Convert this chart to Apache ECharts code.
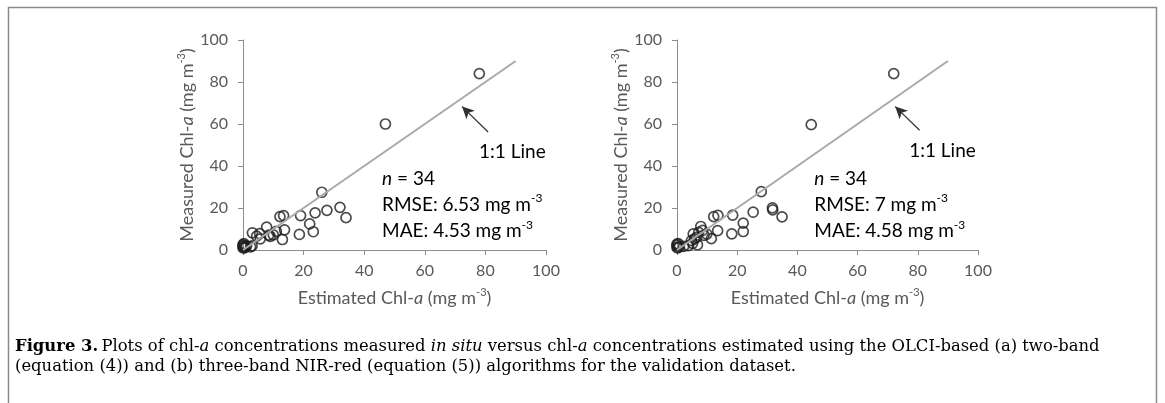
<!DOCTYPE html>
<html>
<head>
<meta charset="utf-8">
<script src="https://cdn.jsdelivr.net/npm/echarts@6/dist/echarts.min.js"></script>
<style>
html, body { margin: 0; padding: 0; background: #fff; }
#main { width: 1165px; height: 403px; }
</style>
</head>
<body>
<div id="main"></div>
<script>
// (a) two-band algorithm: [estimated, measured]
var pointsA = [
    [78, 84], [47, 60], [26, 27.5], [32, 20.3], [34, 15.4], [27.7, 18.9],
    [23.8, 17.7], [19, 16.4], [22, 12.4], [23.2, 8.7], [18.6, 7.4], [13.4, 16.4],
    [12.2, 15.9], [13.7, 9.6], [13, 5], [11, 8.9], [7.8, 10.9], [10, 7.2],
    [8.5, 7.1], [5.7, 5.3], [5.5, 7.8], [3.1, 8.2], [4.5, 6.6], [2.5, 1.5],
    [1.2, 2], [0, 1], [0, 2], [0.3, 3], [0.8, 1.5], [0, 2.6],
    [0.5, 1], [0.2, 1.8], [3, 2], [9, 6.5]
];
// (b) three-band NIR-red algorithm: [estimated, measured]
var pointsB = [
    [72, 84], [44.6, 59.7], [28, 27.8], [31.7, 20.1], [31.8, 19.1], [34.9, 15.8],
    [25.3, 18], [18.5, 16.6], [22, 12.8], [22, 8.8], [18.2, 7.7], [13.6, 16.5],
    [12.2, 15.9], [13.5, 9.2], [11.4, 5.4], [7.9, 11.2], [9.9, 7.6], [8.5, 9.3],
    [7.2, 8.4], [5.4, 7.7], [5.8, 5.3], [5.2, 3.2], [6.5, 6], [3.8, 2.1],
    [2.2, 1.7], [0, 1.2], [0, 2.2], [0.4, 3], [0.8, 1.6], [0, 2.8],
    [0.3, 1], [6.8, 2.5], [9, 7], [4.8, 4.5]
];
var oneToOne = [[0, 0], [90, 90]];
var axisRange = [0, 100];
var axisStep = 20;
var statsA = ['34', '6.53', '4.53'];
var statsB = ['34', '7', '4.58'];

var chart = echarts.init(document.getElementById('main'));

var axisGray = '#8c8c8c';
var labelGray = '#595959';
var uiFont = 'Lato';

var nameRich = {
    n: { fontFamily: uiFont, fontSize: 18, color: labelGray, lineHeight: 22 },
    i: { fontFamily: uiFont, fontSize: 18, color: labelGray, fontStyle: 'italic', lineHeight: 22 },
    s: { fontFamily: uiFont, fontSize: 11, color: labelGray, verticalAlign: 'top', lineHeight: 22 }
};

function makeAxis(idx, isX) {
    return {
        type: 'value',
        gridIndex: idx,
        min: axisRange[0],
        max: axisRange[1],
        interval: axisStep,
        name: isX ? '{n|Estimated Chl-}{i|a}{n| (mg m}{s|-3}{n|)}'
                  : '{n|Measured Chl-}{i|a}{n| (mg m}{s|-3}{n|)}',
        nameLocation: 'middle',
        nameGap: isX ? 37 : 36,
        nameTextStyle: { rich: nameRich },
        axisLine: { show: true, lineStyle: { color: axisGray, width: 1 } },
        axisTick: { show: true, length: 5, lineStyle: { color: axisGray } },
        splitLine: { show: false },
        axisLabel: { color: labelGray, fontFamily: uiFont, fontSize: 16, margin: isX ? 13 : 15 }
    };
}

function makeSeries(idx, pts) {
    return [
        {
            type: 'line',
            xAxisIndex: idx,
            yAxisIndex: idx,
            data: oneToOne,
            symbol: 'none',
            silent: true,
            lineStyle: { color: '#a9a9a9', width: 2 },
            markLine: {
                silent: true,
                symbol: ['none', 'arrow'],
                symbolSize: [9, 12],
                label: { show: false },
                lineStyle: { color: '#303030', width: 1.2, type: 'solid' },
                data: [[{ coord: idx === 0 ? [80.9, 56.2] : [80.6, 57] },
                        { coord: idx === 0 ? [72.3, 68.3] : [72.5, 68.3] }]]
            }
        },
        {
            type: 'scatter',
            xAxisIndex: idx,
            yAxisIndex: idx,
            data: pts,
            symbol: 'circle',
            symbolSize: 10,
            itemStyle: { color: 'rgba(255,255,255,0)', borderColor: '#1e1e1e', borderWidth: 1.7 }
        }
    ];
}

var option = {
    animation: false,
    backgroundColor: '#fff',
    grid: [
        { left: 243, top: 40, width: 303, height: 210 },
        { left: 677, top: 40, width: 301, height: 210 }
    ],
    xAxis: [makeAxis(0, true), makeAxis(1, true)],
    yAxis: [makeAxis(0, false), makeAxis(1, false)],
    series: makeSeries(0, pointsA).concat(makeSeries(1, pointsB))
};
chart.setOption(option);

// annotation texts anchored in data coordinates
var annRich = {
    n: { fontFamily: uiFont, fontSize: 19, color: '#3a3a3a', lineHeight: 24 },
    i: { fontFamily: uiFont, fontSize: 19, color: '#3a3a3a', fontStyle: 'italic', lineHeight: 24 },
    s: { fontFamily: uiFont, fontSize: 12, color: '#3a3a3a', verticalAlign: 'top', lineHeight: 24 }
};

function annText(idx, at, text, align) {
    var p = chart.convertToPixel({ gridIndex: idx }, at);
    return {
        type: 'text',
        x: p[0],
        y: p[1],
        silent: true,
        style: { text: text, rich: annRich, align: align, verticalAlign: 'middle' }
    };
}

function annotations(idx, st, lineX, lineY, statX) {
    return [
        annText(idx, [lineX, lineY], '{n|1:1 Line}', 'center'),
        annText(idx, [statX, 33.9], '{i|n}{n| = ' + st[0] + '}', 'left'),
        annText(idx, [statX, 21.7], '{n|RMSE: ' + st[1] + ' mg m}{s|-3}', 'left'),
        annText(idx, [statX, 9.2], '{n|MAE: ' + st[2] + ' mg m}{s|-3}', 'left')
    ];
}

var capFont = 'DejaVu Serif';
var capRich = {
    r: { fontFamily: capFont, fontSize: 16.4, color: '#1a1a1a' },
    i: { fontFamily: capFont, fontSize: 16.4, color: '#1a1a1a', fontStyle: 'italic' },
    b: { fontFamily: capFont, fontSize: 16.4, color: '#1a1a1a', fontWeight: 'bold' },
    l: { fontFamily: capFont, fontSize: 16.4, color: '#2a7ab8' }
};
var caption1 = '{b|Figure 3.} {r|Plots of chl-}{i|a}{r| concentrations measured }{i|in situ}{r| versus chl-}{i|a}{r| concentrations estimated using the OLCI-based (a) two-band}';
var caption2 = '{r|(equation (}{l|4}{r|)) and (b) three-band NIR-red (equation (}{l|5}{r|)) algorithms for the validation dataset.}';

chart.setOption({
    graphic: annotations(0, statsA, 88.9, 46.6, 45.9)
        .concat(annotations(1, statsB, 88.2, 47.4, 45.6))
        .concat([
            {
                type: 'polyline',
                silent: true,
                shape: { points: [[8.5, 410], [8.5, 7.5], [1156.5, 7.5], [1156.5, 410]] },
                style: { stroke: '#8a8a8a', lineWidth: 1.5, fill: null }
            },
            { type: 'text', x: 15, y: 347, style: { text: caption1, rich: capRich, verticalAlign: 'middle' } },
            { type: 'text', x: 15, y: 367, style: { text: caption2, rich: capRich, verticalAlign: 'middle' } }
        ])
});
</script>
</body>
</html>
